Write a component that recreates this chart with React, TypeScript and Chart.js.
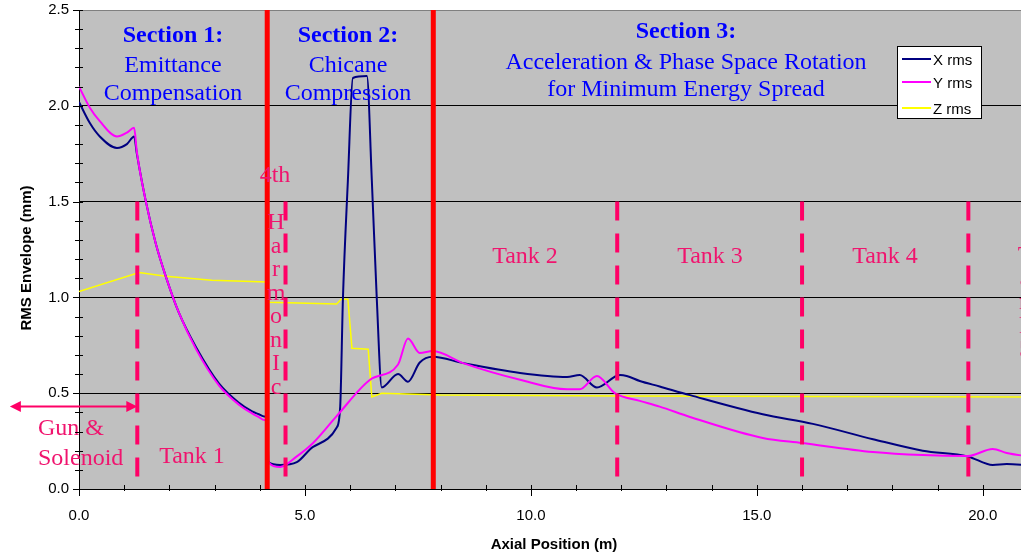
import React, { useEffect, useRef } from "react";
import { Chart, registerables } from "chart.js";

Chart.register(...registerables);

// ---------------- data ----------------
const X_MIN = 0;
const X_MAX = 21;
const Y_MIN = 0;
const Y_MAX = 2.5;

const xRmsPos = [0, 0.24, 0.46, 0.84, 1.06, 1.22, 1.28, 1.48, 1.7, 1.92, 2.21, 2.59, 3.1, 3.54, 3.83, 3.98, 4.1, 4.17, 4.19, 4.45, 4.82, 5.18, 5.7, 5.78, 5.84, 5.95, 6.06, 6.37, 6.48, 6.59, 6.7, 7.06, 7.28, 7.54, 7.83, 8.5, 9.76, 10.8, 11.08, 11.46, 11.97, 12.12, 12.41, 12.85, 13.52, 15.13, 16.24, 17.57, 18.67, 19.67, 20.22, 20.53, 21.0];
const xRmsVal = [2.02, 1.91, 1.84, 1.78, 1.8, 1.84, 1.75, 1.5, 1.28, 1.11, 0.92, 0.74, 0.55, 0.45, 0.405, 0.39, 0.378, 0.372, 0.14, 0.125, 0.14, 0.22, 0.32, 0.43, 0.99, 1.61, 2.145, 2.155, 1.61, 0.99, 0.53, 0.6, 0.56, 0.66, 0.69, 0.657, 0.606, 0.585, 0.595, 0.53, 0.595, 0.59, 0.564, 0.535, 0.49, 0.39, 0.34, 0.26, 0.2, 0.17, 0.125, 0.13, 0.125];

const yRmsPos = [0, 0.24, 0.46, 0.84, 1.06, 1.22, 1.28, 1.48, 1.7, 1.92, 2.21, 2.59, 3.1, 3.54, 3.83, 3.98, 4.1, 4.17, 4.19, 4.45, 4.82, 5.18, 5.7, 6.44, 7.06, 7.28, 7.54, 7.83, 8.5, 9.76, 10.8, 11.08, 11.46, 11.86, 12.41, 12.85, 13.52, 15.13, 16.0, 17.57, 18.67, 19.67, 20.22, 20.53, 21.0];
const yRmsVal = [2.1, 1.99, 1.92, 1.84, 1.86, 1.885, 1.76, 1.5, 1.28, 1.11, 0.92, 0.73, 0.54, 0.44, 0.395, 0.375, 0.36, 0.352, 0.14, 0.115, 0.17, 0.24, 0.38, 0.57, 0.65, 0.785, 0.71, 0.72, 0.657, 0.57, 0.52, 0.52, 0.59, 0.5, 0.46, 0.43, 0.376, 0.266, 0.24, 0.193, 0.177, 0.172, 0.209, 0.188, 0.17];

const zRmsPos = [0, 1.33, 1.92, 2.94, 4.16, 4.2, 5.7, 5.8, 5.95, 6.04, 6.4, 6.48, 6.7, 8.0, 12.0, 21.0];
const zRmsVal = [1.03, 1.13, 1.11, 1.09, 1.08, 0.975, 0.966, 0.99, 0.99, 0.735, 0.73, 0.48, 0.5, 0.49, 0.485, 0.48];

const seriesLabels = ["X rms", "Y rms", "Z rms"];
const seriesColors = ["#000080", "#FF00FF", "#FFFF00"];

const sectionBoundaries = [4.165, 7.84];
const tankBoundaries = [1.29, 4.57, 11.91, 16.0, 19.68];
const tankBoundaryTop = 1.5;

const sectionTitles = ["Section 1:", "Section 2:", "Section 3:"];
const sectionLines = [
  ["Emittance", "Compensation"],
  ["Chicane", "Compression"],
  ["Acceleration & Phase Space Rotation", "for Minimum Energy Spread"],
];
const tankLabels = ["Tank 1", "Tank 2", "Tank 3", "Tank 4"];
const harmonicLetters = ["H", "a", "r", "m", "o", "n", "I", "c"];
const tank5Letters = ["T", "a", "n", "k", "5"];

const SERIF = '"Liberation Serif", "Times New Roman", serif';
const SANS = '"Liberation Sans", Arial, sans-serif';
const BLUE = "#0000FF";
const PINK = "#F0146E";
const DASH = "#FF0066";

const toPoints = (xs: number[], ys: number[]) => xs.map((x, i) => ({ x, y: ys[i] }));

const decorPlugin = {
  id: "decor",
  beforeDraw(chart: any) {
    const { ctx, chartArea: a } = chart;
    ctx.save();
    ctx.fillStyle = "#C0C0C0";
    ctx.fillRect(a.left, a.top, a.right - a.left, a.bottom - a.top);
    ctx.restore();
  },
  afterDatasetsDraw(chart: any) {
    const { ctx, chartArea: a, scales } = chart;
    const xs = scales.x;
    const ys = scales.y;
    ctx.save();

    // tank boundaries (dashed)
    ctx.strokeStyle = DASH;
    ctx.lineWidth = 4;
    ctx.lineCap = "butt";
    ctx.setLineDash([19, 13]);
    for (const v of tankBoundaries) {
      const px = xs.getPixelForValue(v);
      ctx.beginPath();
      ctx.moveTo(px, ys.getPixelForValue(tankBoundaryTop));
      ctx.lineTo(px, a.bottom - 1);
      ctx.stroke();
    }
    ctx.setLineDash([]);

    // section boundaries (solid red)
    ctx.strokeStyle = "#FF0000";
    ctx.lineWidth = 5;
    for (const v of sectionBoundaries) {
      const px = xs.getPixelForValue(v);
      ctx.beginPath();
      ctx.moveTo(px, a.top);
      ctx.lineTo(px, a.bottom);
      ctx.stroke();
    }

    // Gun & Solenoid arrow
    const ay = Math.round(ys.getPixelForValue(0.433)) + 0.5;
    const ax1 = xs.getPixelForValue(-1.53);
    const ax2 = xs.getPixelForValue(tankBoundaries[0]);
    ctx.strokeStyle = DASH;
    ctx.fillStyle = DASH;
    ctx.lineWidth = 2;
    ctx.beginPath();
    ctx.moveTo(ax1 + 8, ay);
    ctx.lineTo(ax2 - 8, ay);
    ctx.stroke();
    ctx.beginPath();
    ctx.moveTo(ax1, ay);
    ctx.lineTo(ax1 + 11, ay - 5.5);
    ctx.lineTo(ax1 + 11, ay + 5.5);
    ctx.closePath();
    ctx.fill();
    ctx.beginPath();
    ctx.moveTo(ax2, ay);
    ctx.lineTo(ax2 - 11, ay - 5.5);
    ctx.lineTo(ax2 - 11, ay + 5.5);
    ctx.closePath();
    ctx.fill();

    // section texts
    ctx.textAlign = "center";
    ctx.textBaseline = "alphabetic";
    const secCx = [173, 348, 686];
    const secBase = [
      [42, 72, 100],
      [42, 72, 100],
      [38, 69, 96],
    ];
    for (let i = 0; i < 3; i++) {
      ctx.fillStyle = BLUE;
      ctx.font = `bold 24px ${SERIF}`;
      ctx.fillText(sectionTitles[i], secCx[i], secBase[i][0]);
      ctx.font = `24px ${SERIF}`;
      ctx.fillText(sectionLines[i][0], secCx[i], secBase[i][1]);
      ctx.fillText(sectionLines[i][1], secCx[i], secBase[i][2]);
    }

    // pink texts
    ctx.fillStyle = PINK;
    ctx.font = `24px ${SERIF}`;
    ctx.fillText(tankLabels[0], 192, 463);
    ctx.fillText(tankLabels[1], 525, 263);
    ctx.fillText(tankLabels[2], 710, 263);
    ctx.fillText(tankLabels[3], 885, 263);
    ctx.fillText("4th", 275, 182);
    harmonicLetters.forEach((ch, i) => ctx.fillText(ch, 276, 229 + i * 23.5));
    tank5Letters.forEach((ch, i) => ctx.fillText(ch, 1025, 262 + i * 23.5));
    ctx.textAlign = "left";
    ctx.fillText("Gun &", 38, 435);
    ctx.fillText("Solenoid", 38, 465);

    ctx.restore();
  },
  afterDraw(chart: any) {
    const { ctx, chartArea: a, scales } = chart;
    const xs = scales.x;
    const ys = scales.y;
    ctx.save();
    ctx.strokeStyle = "#000";
    ctx.lineWidth = 1;
    ctx.beginPath();
    for (let i = 0; i <= 25; i++) {
      const py = Math.round(ys.getPixelForValue(i / 10)) + 0.5;
      const major = i % 5 === 0;
      ctx.moveTo(a.left - (major ? 6 : 4), py);
      ctx.lineTo(a.left + 4, py);
    }
    for (let i = X_MIN; i <= X_MAX; i++) {
      const px = Math.round(xs.getPixelForValue(i)) + 0.5;
      const major = i % 5 === 0;
      ctx.moveTo(px, a.bottom - 4);
      ctx.lineTo(px, a.bottom + (major ? 7 : 2));
    }
    ctx.stroke();

    // axis titles
    ctx.fillStyle = "#000";
    ctx.font = `bold 15px ${SANS}`;
    ctx.textAlign = "center";
    ctx.textBaseline = "middle";
    ctx.fillText("Axial Position (m)", 554, 545);
    ctx.save();
    ctx.translate(27, 258);
    ctx.rotate(-Math.PI / 2);
    ctx.fillText("RMS Envelope (mm)", 0, 0);
    ctx.restore();

    // legend
    const lx = 897, ly = 46, lw = 85, lh = 73;
    ctx.fillStyle = "#FFFFFF";
    ctx.fillRect(lx, ly, lw, lh);
    ctx.strokeStyle = "#000";
    ctx.strokeRect(lx + 0.5, ly + 0.5, lw - 1, lh - 1);
    const rows = [59, 82, 108];
    chart.data.datasets.forEach((ds: any, i: number) => {
      ctx.strokeStyle = ds.borderColor;
      ctx.lineWidth = 2;
      ctx.beginPath();
      ctx.moveTo(902, rows[i]);
      ctx.lineTo(931, rows[i]);
      ctx.stroke();
      ctx.fillStyle = "#000";
      ctx.font = `15px ${SANS}`;
      ctx.textAlign = "left";
      ctx.textBaseline = "middle";
      ctx.fillText(ds.label, 933, rows[i] + 2);
    });
    ctx.restore();
  },
};

export default function App() {
  const ref = useRef<HTMLCanvasElement>(null);
  useEffect(() => {
    const canvas = ref.current;
    if (!canvas) return;
    const chart = new Chart(canvas, {
      type: "line",
      data: {
        datasets: [
          {
            label: seriesLabels[0],
            data: toPoints(xRmsPos, xRmsVal),
            borderColor: seriesColors[0],
            borderWidth: 2,
            pointRadius: 0,
            cubicInterpolationMode: "monotone",
            fill: false,
            order: 1,
          },
          {
            label: seriesLabels[1],
            data: toPoints(yRmsPos, yRmsVal),
            borderColor: seriesColors[1],
            borderWidth: 2,
            pointRadius: 0,
            cubicInterpolationMode: "monotone",
            fill: false,
            order: 0,
          },
          {
            label: seriesLabels[2],
            data: toPoints(zRmsPos, zRmsVal),
            borderColor: seriesColors[2],
            borderWidth: 1.5,
            pointRadius: 0,
            tension: 0,
            fill: false,
            order: 2,
          },
        ],
      } as any,
      options: {
        responsive: false,
        maintainAspectRatio: false,
        animation: false,
        devicePixelRatio: 1,
        layout: { padding: { top: 10, left: 0, right: 0, bottom: 0 } },
        plugins: {
          legend: { display: false },
          tooltip: { enabled: false },
        },
        scales: {
          x: {
            type: "linear",
            min: X_MIN,
            max: X_MAX,
            afterFit: (s: any) => {
              s.height = 68;
              s.paddingLeft = 0;
              s.paddingRight = 0;
            },
            ticks: {
              stepSize: 1,
              autoSkip: false,
              maxRotation: 0,
              padding: 18,
              color: "#000",
              font: { family: SANS, size: 15 },
              callback: (v: any) => (Number(v) % 5 === 0 ? Number(v).toFixed(1) : ""),
            },
            grid: { display: false, drawTicks: false },
            border: { display: true, color: "#000", width: 1 },
          },
          y: {
            type: "linear",
            min: Y_MIN,
            max: Y_MAX,
            afterFit: (s: any) => {
              s.width = 79;
              s.paddingTop = 0;
              s.paddingBottom = 0;
            },
            ticks: {
              stepSize: 0.5,
              padding: 10,
              color: "#000",
              font: { family: SANS, size: 15 },
              callback: (v: any) => Number(v).toFixed(1),
            },
            grid: {
              drawTicks: false,
              lineWidth: 1,
              color: (c: any) => (c.tick && c.tick.value === 2.5 ? "#808080" : "#000000"),
            },
            border: { display: true, color: "#000", width: 1 },
          },
        },
      } as any,
      plugins: [decorPlugin],
    });
    return () => chart.destroy();
  }, []);
  return (
    <div
      style={{
        position: "fixed",
        left: 0,
        top: 0,
        width: 1021,
        height: 557,
        overflow: "hidden",
        background: "#FFFFFF",
      }}
    >
      <canvas ref={ref} width={1028} height={557} style={{ display: "block", width: 1028, height: 557 }} />
    </div>
  );
}
